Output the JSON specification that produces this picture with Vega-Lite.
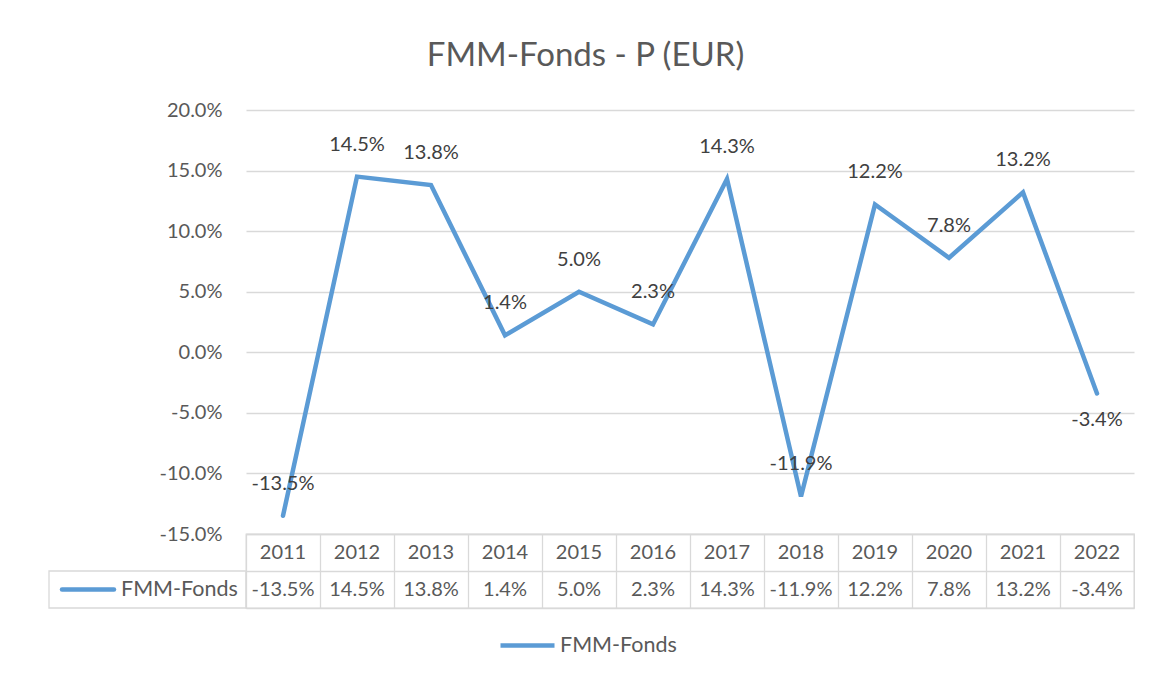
{
  "$schema": "https://vega.github.io/schema/vega-lite/v6.json",
  "background": "white",
  "padding": {"left": 48, "top": 40, "right": 0, "bottom": 0},
  "title": {"text": "FMM-Fonds - P (EUR)", "fontSize": 33, "font": "Lato", "fontWeight": "normal", "color": "#595959", "anchor": "middle", "dx": -6, "offset": 27},
  "datasets": {
    "fmm": [
      {"year": "2011", "value": -0.135},
      {"year": "2012", "value": 0.145},
      {"year": "2013", "value": 0.138},
      {"year": "2014", "value": 0.014},
      {"year": "2015", "value": 0.05},
      {"year": "2016", "value": 0.023},
      {"year": "2017", "value": 0.143},
      {"year": "2018", "value": -0.119},
      {"year": "2019", "value": 0.122},
      {"year": "2020", "value": 0.078},
      {"year": "2021", "value": 0.132},
      {"year": "2022", "value": -0.034}
    ],
    "series": [{"series": "FMM-Fonds"}]
  },
  "columns": 2,
  "spacing": 0,
  "bounds": "flush",
  "concat": [
    {
      "width": 197, "height": 424,
      "data": {"values": []},
      "mark": "point"
    },
    {
      "width": 888, "height": 424,
      "data": {"name": "fmm"},
      "encoding": {
        "x": {"field": "year", "type": "ordinal", "scale": {"type": "point", "padding": 0.5}, "axis": null},
        "y": {"field": "value", "type": "quantitative",
          "scale": {"domain": [-0.15, 0.2], "nice": false, "zero": false},
          "axis": {"values": [-0.15, -0.1, -0.05, 0, 0.05, 0.1, 0.15, 0.2], "format": ".1%", "grid": true, "gridColor": "#d9d9d9", "gridWidth": 1.3, "domain": false, "ticks": false, "labelPadding": 24, "labelFontSize": 20, "labelColor": "#595959", "labelFont": "Lato", "title": null}}
      },
      "layer": [
        {"mark": {"type": "line", "color": "#5b9bd5", "strokeWidth": 4.5, "strokeCap": "round"}},
        {"transform": [{"filter": "datum.year != '2022'"}],
         "mark": {"type": "text", "fontSize": 20, "font": "Lato", "color": "#404040", "baseline": "middle", "dy": -32},
         "encoding": {"text": {"field": "value", "type": "quantitative", "format": ".1%"}}},
        {"transform": [{"filter": "datum.year == '2022'"}],
         "mark": {"type": "text", "fontSize": 20, "font": "Lato", "color": "#404040", "baseline": "middle", "dy": 27},
         "encoding": {"text": {"field": "value", "type": "quantitative", "format": ".1%"}}}
      ]
    },
    {
      "width": 197, "height": 74,
      "data": {"name": "series"},
      "encoding": {
        "y": {"field": "series", "type": "nominal", "scale": {"type": "band", "domain": ["Jahr", "FMM-Fonds"], "paddingInner": 0, "paddingOuter": 0}, "axis": null}
      },
      "layer": [
        {"mark": {"type": "bar", "fill": "white", "stroke": "#d9d9d9", "strokeWidth": 1.3}},
        {"mark": {"type": "point", "shape": "stroke", "size": 2704, "strokeWidth": 4.5, "strokeCap": "round", "filled": false, "opacity": 1},
         "encoding": {
           "x": {"datum": "sym", "type": "nominal", "scale": {"type": "point", "domain": ["sym", "lbl"], "range": [39, 72], "padding": 0}, "axis": null},
           "color": {"field": "series", "type": "nominal", "scale": {"range": ["#5b9bd5"]},
             "legend": {"orient": "none", "legendX": 449, "legendY": 506, "title": null, "symbolType": "stroke", "symbolSize": 2916, "symbolStrokeWidth": 4.5, "labelFontSize": 21.5, "labelFont": "Lato", "labelColor": "#595959", "labelOffset": 3}}
         }},
        {"mark": {"type": "text", "fontSize": 21.5, "font": "Lato", "color": "#595959", "align": "left", "baseline": "middle"},
         "encoding": {
           "x": {"datum": "lbl", "type": "nominal"},
           "text": {"field": "series"}
         }}
      ]
    },
    {
      "width": 888, "height": 74,
      "view": {"stroke": "#d9d9d9", "strokeWidth": 1.3},
      "data": {"name": "fmm"},
      "encoding": {
        "x": {"field": "year", "type": "ordinal", "scale": {"type": "band", "paddingInner": 0, "paddingOuter": 0},
          "axis": {"grid": true, "tickBand": "extent", "gridColor": "#d9d9d9", "gridWidth": 1.3, "labels": false, "ticks": false, "domain": false, "title": null}}
      },
      "layer": [
        {"mark": {"type": "text", "fontSize": 20, "font": "Lato", "color": "#595959", "baseline": "middle"},
         "encoding": {
           "y": {"datum": "Jahr", "type": "nominal", "scale": {"type": "band", "domain": ["Jahr", "FMM-Fonds"], "paddingInner": 0, "paddingOuter": 0},
             "axis": {"grid": true, "tickBand": "extent", "gridColor": "#d9d9d9", "gridWidth": 1.3, "labels": false, "ticks": false, "domain": false, "title": null}},
           "text": {"field": "year"}
         }},
        {"mark": {"type": "text", "fontSize": 20, "font": "Lato", "color": "#595959", "baseline": "middle"},
         "encoding": {
           "y": {"datum": "FMM-Fonds", "type": "nominal"},
           "text": {"field": "value", "type": "quantitative", "format": ".1%"}
         }}
      ]
    }
  ],
  "config": {
    "font": "Lato",
    "view": {"stroke": null},
    "locale": {"number": {"decimal": ".", "thousands": ",", "grouping": [3], "currency": ["$", ""], "minus": "-"}}
  }
}
